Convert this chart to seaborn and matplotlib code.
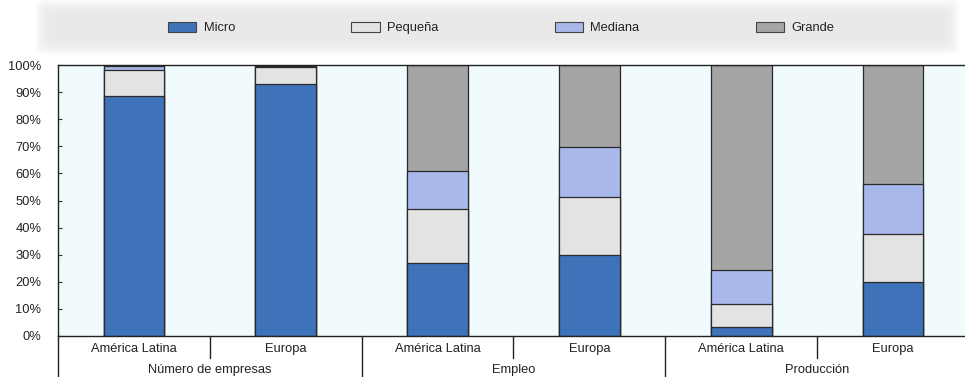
import matplotlib
matplotlib.use("Agg")
import matplotlib.pyplot as plt
from matplotlib.patches import Patch, FancyBboxPatch
import matplotlib.transforms as mtransforms
import numpy as np
import pandas as pd
import seaborn as sns

# Distribución por tamaño de empresa (%)
grupos = ["Número de empresas", "Empleo", "Producción"]
regiones = ["América Latina", "Europa"]
tamanos = ["Micro", "Pequeña", "Mediana", "Grande"]
micro = [88.5, 93.0, 27.0, 30.0, 3.2, 20.0]
pequena = [9.7, 6.2, 20.0, 21.3, 8.6, 17.5]
mediana = [1.4, 0.6, 14.0, 18.3, 12.6, 18.6]
grande = [0.4, 0.2, 39.0, 30.4, 75.6, 43.9]
y_ticks = [0, 10, 20, 30, 40, 50, 60, 70, 80, 90, 100]
y_labels = ["0%", "10%", "20%", "30%", "40%", "50%", "60%", "70%", "80%", "90%", "100%"]

colores = {"Micro": "#3E73B9", "Pequeña": "#E3E3E3",
           "Mediana": "#A8B8EA", "Grande": "#A5A5A5"}

claves = [f"{g}|{r}" for g in grupos for r in regiones]
df = pd.DataFrame({"clave": claves, "Micro": micro, "Pequeña": pequena,
                   "Mediana": mediana, "Grande": grande})
acum = df[tamanos].cumsum(axis=1)

sns.set_theme(style="white")
plt.rcParams["font.family"] = ["Liberation Sans", "DejaVu Sans"]

W, H = 965, 377
fig = plt.figure(figsize=(W / 100, H / 100), dpi=100)
left, right, top, bottom = 58, 969, 65, 336
ax = fig.add_axes([left / W, 1 - bottom / H, (right - left) / W, (bottom - top) / H])
ax.set_facecolor("#F1FAFC")

# Stacked bars: draw cumulative totals from the top layer down
for t in reversed(tamanos):
    sns.barplot(x=df["clave"], y=acum[t], order=claves, color=colores[t],
                saturation=1, width=0.4, edgecolor="#2a2a2a", linewidth=0.9,
                ax=ax, zorder=2)

ax.set_xlim(-0.5, len(claves) - 0.5)
ax.set_ylim(0, 100)
ax.set_yticks(y_ticks)
ax.set_yticklabels(y_labels)
ax.set_xticks([])
ax.set_xlabel("")
ax.set_ylabel("")
ax.tick_params(axis="y", direction="in", length=3, width=0.8, color="#333333",
               labelsize=9.3, labelcolor="#222222", pad=12, left=True)
for s in ["left", "top", "bottom"]:
    ax.spines[s].set_visible(True)
    ax.spines[s].set_color("#222222")
    ax.spines[s].set_linewidth(1.0)
ax.spines["right"].set_visible(False)

# Two-level category axis
trans = mtransforms.blended_transform_factory(ax.transData, ax.transAxes)
h = bottom - top
short = -22 / h
long_ = -(H - bottom) / h
ax.plot([-0.5, -0.5], [0, long_], transform=trans, color="#222222", lw=1.0, clip_on=False)
for i in range(1, len(claves)):
    y_end = long_ if i % 2 == 0 else short
    ax.plot([i - 0.5, i - 0.5], [0, y_end], transform=trans, color="#222222",
            lw=1.0, clip_on=False)
for i, k in enumerate(claves):
    ax.text(i, -13 / h, k.split("|")[1], transform=trans, ha="center", va="center",
            fontsize=9.3, color="#222222")
for j, g in enumerate(grupos):
    ax.text(2 * j + 0.5, -34 / h, g, transform=trans, ha="center", va="center",
            fontsize=9.3, color="#222222")

# Soft grey legend band, built from nested translucent layers
n_layers = 10
for k in range(n_layers):
    pad = (n_layers - 1 - k) * 1.6
    band = FancyBboxPatch(((50 - pad) / W, 1 - (40 + pad) / H),
                          (895 + 2 * pad) / W, (26 + 2 * pad) / H,
                          boxstyle="round,pad=0,rounding_size=0.012",
                          transform=fig.transFigure, facecolor="#E4E4E4",
                          edgecolor="none", alpha=0.12, zorder=0)
    fig.patches.append(band)

handles = [Patch(facecolor=colores[t], edgecolor="#444444", linewidth=0.8, label=t)
           for t in tamanos]
fig.legend(handles=handles, loc="center", bbox_to_anchor=(501 / W, 1 - 28 / H),
           ncol=4, frameon=False, fontsize=9.3, handlelength=2.2, handleheight=0.9,
           handletextpad=0.56, columnspacing=9.0, labelcolor="#222222")

fig.savefig("out.png", dpi=100)
